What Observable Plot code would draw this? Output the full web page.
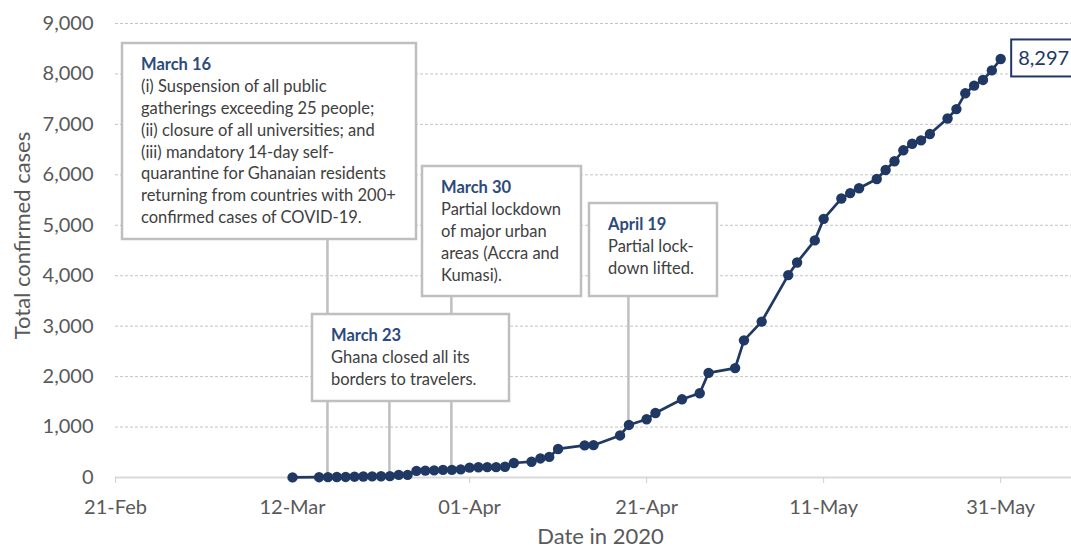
<!DOCTYPE html>
<html><head><meta charset="utf-8">
<script src="https://cdn.jsdelivr.net/npm/d3@7"></script>
<script src="https://cdn.jsdelivr.net/npm/@observablehq/plot@0.6"></script>
<style>
body{margin:0;background:#fff;}
svg{display:block;}
</style>
</head><body><div id="chart"></div>
<script>
// ---- data ----
const dates = ["2020-03-12","2020-03-15","2020-03-16","2020-03-17","2020-03-18","2020-03-19","2020-03-20","2020-03-21","2020-03-22","2020-03-23","2020-03-24","2020-03-25","2020-03-26","2020-03-27","2020-03-28","2020-03-29","2020-03-30","2020-03-31","2020-04-01","2020-04-02","2020-04-03","2020-04-04","2020-04-05","2020-04-06","2020-04-08","2020-04-09","2020-04-10","2020-04-11","2020-04-14","2020-04-15","2020-04-18","2020-04-19","2020-04-21","2020-04-22","2020-04-25","2020-04-27","2020-04-28","2020-05-01","2020-05-02","2020-05-04","2020-05-07","2020-05-08","2020-05-10","2020-05-11","2020-05-13","2020-05-14","2020-05-15","2020-05-17","2020-05-18","2020-05-19","2020-05-20","2020-05-21","2020-05-22","2020-05-23","2020-05-25","2020-05-26","2020-05-27","2020-05-28","2020-05-29","2020-05-30","2020-05-31"];
const cases = [2,6,7,9,11,16,19,23,24,27,52,53,132,137,141,152,152,161,195,204,205,205,214,287,313,378,408,566,636,641,834,1042,1154,1279,1550,1671,2074,2169,2719,3091,4012,4263,4700,5127,5530,5638,5735,5918,6096,6269,6486,6617,6683,6808,7117,7303,7616,7768,7881,8070,8297];
const xTicks = ["2020-02-21","2020-03-12","2020-04-01","2020-04-21","2020-05-11","2020-05-31"];
const yTicks = [0,1000,2000,3000,4000,5000,6000,7000,8000,9000];
const xDomain = ["2020-02-21","2020-06-08"];
const yTitle = "Total confirmed cases";
const xTitle = "Date in 2020";

const annDates = ["2020-03-16","2020-03-23","2020-03-30","2020-04-19"];
const annTitles = ["March 16","March 23","March 30","April 19"];
const annLines = [
  ["(i) Suspension of all public","gatherings exceeding 25 people;","(ii) closure of all universities; and","(iii) mandatory 14-day self-","quarantine for Ghanaian residents","returning from countries with 200+","confirmed cases of COVID-19."],
  ["Ghana closed all its","borders to travelers."],
  ["Partial lockdown","of major urban","areas (Accra and","Kumasi)."],
  ["Partial lock-","down lifted."]
];

// ---- layout (pixels) ----
const boxLayout = [
  {left:122, top:43, w:294, h:196},
  {left:312, top:314, w:197, h:87},
  {left:422, top:166, w:159, h:130},
  {left:589, top:203, w:128, h:93}
];
const navy = "#203864";
const titleBlue = "#2c4a7c";
const font = "Lato, 'Open Sans', sans-serif";

const data = dates.map((d,i)=>({date:new Date(d), cases:cases[i]}));

const plot = Plot.plot({
  width:1071, height:554,
  marginLeft:115, marginRight:0, marginTop:23, marginBottom:77,
  style:{fontFamily:font, background:"#fff", color:"#595959"},
  x:{type:"utc", domain:xDomain.map(d=>new Date(d))},
  y:{domain:[0,9000]},
  marks:[
    Plot.gridY(yTicks.filter(v=>v>0), {stroke:"#c4c4c4", strokeOpacity:1, strokeDasharray:"3,2", strokeWidth:1}),
    Plot.ruleY([0], {stroke:"#d9d9d9", strokeWidth:2}),
    Plot.axisX({ticks:xTicks.map(d=>new Date(d)), tickFormat:d3.utcFormat("%d-%b"), tickSize:6, tickPadding:16, fontSize:20, stroke:"#d0d0d0", fill:"#595959", label:null}),
    Plot.axisY({ticks:yTicks, tickFormat:d3.format(","), tickSize:0, tickPadding:22, fontSize:20, fill:"#595959", label:null}),
    Plot.text([yTitle], {frameAnchor:"left", textAnchor:"middle", lineAnchor:"middle", rotate:-90, dx:-93, dy:-15, fontSize:22, fill:"#595959"}),
    Plot.text([xTitle], {frameAnchor:"bottom", textAnchor:"middle", dx:7, dy:66, fontSize:22, fill:"#595959"}),
    Plot.lineY(data, {x:"date", y:"cases", stroke:navy, strokeWidth:2.7}),
    Plot.dot(data, {x:"date", y:"cases", r:5.2, fill:navy, stroke:"none"})
  ]
});
document.getElementById("chart").appendChild(plot);

// ---- annotations drawn with the plot's scales ----
const sx = plot.scale("x"), sy = plot.scale("y");
const svg = d3.select(plot);
const lineG = plot.querySelector('g[aria-label="line"]');
const ann = svg.insert("g", () => lineG).attr("font-family", font).attr("text-anchor","start");
const lookup = new Map(data.map(d=>[+d.date, d.cases]));
// leader lines first
annDates.forEach((d,i)=>{
  const dt = new Date(d), b = boxLayout[i];
  const x = sx.apply(dt), y = sy.apply(lookup.get(+dt));
  ann.append("line").attr("x1",x).attr("x2",x).attr("y1",b.top+b.h).attr("y2",y)
    .attr("stroke","#bfbfbf").attr("stroke-width",2.5);
});
annDates.forEach((d,i)=>{
  const b = boxLayout[i];
  const g = ann.append("g");
  g.append("rect").attr("x",b.left).attr("y",b.top).attr("width",b.w).attr("height",b.h)
    .attr("fill","#fff").attr("stroke","#bfbfbf").attr("stroke-width",2.5);
  g.append("text").attr("x",b.left+19).attr("y",b.top+27).attr("font-size",16.5).attr("font-weight","bold")
    .attr("fill",titleBlue).text(annTitles[i]);
  annLines[i].forEach((t,j)=>{
    g.append("text").attr("x",b.left+19).attr("y",b.top+27+22.4+j*21.7).attr("font-size",16.5)
      .attr("fill","#404040").text(t);
  });
});
// last-value label
const last = data[data.length-1];
const lx = sx.apply(last.date), ly = sy.apply(last.cases);
const lab = svg.append("g").attr("font-family", font).attr("text-anchor","start");
lab.append("rect").attr("x",lx+11).attr("y",ly-19).attr("width",80).attr("height",37)
  .attr("fill","#fff").attr("stroke",navy).attr("stroke-width",2);
lab.append("text").attr("x",lx+18).attr("y",ly+7).attr("font-size",20).attr("fill",navy)
  .text(d3.format(",")(last.cases));
</script>
</body></html>
